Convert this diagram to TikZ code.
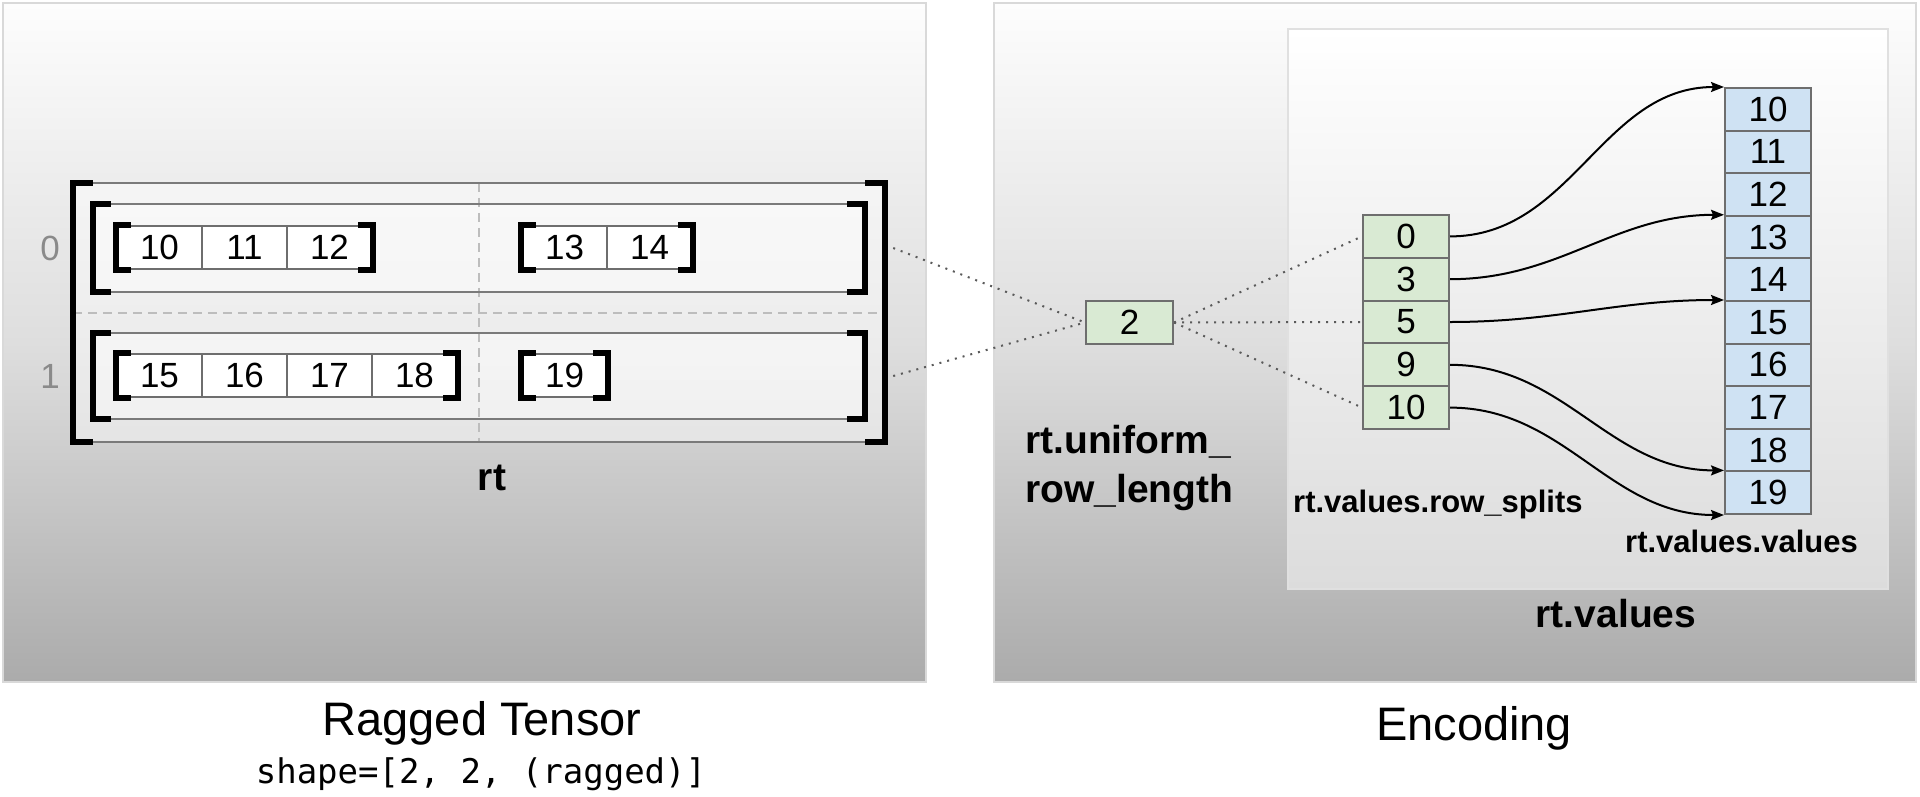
\documentclass[tikz,border=0pt]{standalone}
\usepackage{fontspec}
\setmainfont{Liberation Sans}
\setmonofont{DejaVu Sans Mono}
\usetikzlibrary{arrows.meta}
\definecolor{cellgreen}{HTML}{D9EAD3}
\definecolor{cellblue}{HTML}{CFE2F3}
\definecolor{cellline}{HTML}{6E6E6E}
\definecolor{boxline}{HTML}{7A7A7A}
\definecolor{dashgray}{HTML}{BDBDBD}
\definecolor{dotgray}{HTML}{5A5A5A}
\definecolor{idxgray}{HTML}{8A8A8A}
\definecolor{paneltop}{HTML}{FDFDFD}
\definecolor{panelmid}{HTML}{DEDEDE}
\definecolor{panelbot}{HTML}{ABABAB}
\definecolor{innerbot}{HTML}{DCDCDC}
\begin{document}
\begin{tikzpicture}[x=1pt,y=-1pt,
  panel/.style={draw=black!15, line width=1.5pt, top color=paneltop, bottom color=panelbot, middle color=panelmid},
  innerpanel/.style={draw=black!12, line width=1.5pt, top color=white, bottom color=innerbot},
  cell/.style={draw=cellline, line width=2pt, minimum width=85pt, minimum height=43pt, inner sep=0pt, font=\fontsize{35}{40}\selectfont},
  leaf/.style={cell, fill=white},
  split/.style={cell, fill=cellgreen, minimum width=86pt, minimum height=42.8pt},
  val/.style={cell, fill=cellblue, minimum width=86pt, minimum height=42.6pt},
  holder/.style={fill=white, fill opacity=0.45, inner sep=0pt},
  boxedge/.style={draw=boxline, line width=2pt},
  brk/.style={line width=6pt, line join=miter, black},
  dashline/.style={dashgray, line width=2pt, dash pattern=on 9pt off 6pt},
  dotline/.style={dotgray, line width=2pt, dash pattern=on 2pt off 6pt},
  arr/.style={black, line width=2pt, -{Stealth[length=13pt,width=10pt,inset=2pt]}},
  lab/.style={font=\bfseries\fontsize{39}{44}\selectfont, inner sep=0pt},
  slab/.style={font=\bfseries\fontsize{31}{36}\selectfont, inner sep=0pt},
  title/.style={font=\fontsize{47}{52}\selectfont, inner sep=0pt},
  idx/.style={font=\fontsize{35}{40}\selectfont, text=idxgray, inner sep=0pt}
]
\useasboundingbox (0,0) rectangle (1920,796);
% panels
\path[panel] (3,3) rectangle (926,682);
\path[panel] (994,3) rectangle (1916,682);
\path[innerpanel] (1288,29) rectangle (1888,589);

% ragged tensor
\node[holder, minimum width=812pt, minimum height=259pt] (outer) at (479,312.5) {};
\node[holder, minimum width=772pt, minimum height=88pt] (row0) at (479,248) {};
\node[holder, minimum width=772pt, minimum height=86pt] (row1) at (479,376) {};
\draw[dashline] (outer.west) -- (outer.east);
\draw[dashline, line width=1.5pt] (outer.north) -- (outer.south);
\foreach \b in {outer,row0,row1}{
  \draw[boxedge] (\b.north west) -- (\b.north east);
  \draw[boxedge] (\b.south west) -- (\b.south east);
}
\draw[brk] ([xshift=20pt]outer.north west) -- (outer.north west) -- (outer.south west) -- ([xshift=20pt]outer.south west);
\draw[brk] ([xshift=-20pt]outer.north east) -- (outer.north east) -- (outer.south east) -- ([xshift=-20pt]outer.south east);
\foreach \b in {row0,row1}{
  \draw[brk] ([xshift=18pt]\b.north west) -- (\b.north west) -- (\b.south west) -- ([xshift=18pt]\b.south west);
  \draw[brk] ([xshift=-18pt]\b.north east) -- (\b.north east) -- (\b.south east) -- ([xshift=-18pt]\b.south east);
}
\node[idx] (i0) at (50,248) {0};
\node[idx] (i1) at (50,376) {1};

% leaf cells
\foreach \v [count=\i from 0] in {10,11,12} \node[leaf] (a\v) at ({159.5+85*\i},247.5) {\v};
\foreach \v [count=\i from 0] in {13,14} \node[leaf] (a\v) at ({564.5+85*\i},247.5) {\v};
\foreach \v [count=\i from 0] in {15,16,17,18} \node[leaf] (a\v) at ({159.5+85*\i},375.5) {\v};
\node[leaf] (a19) at (564.5,375.5) {19};
\foreach \l/\r in {a10/a12,a13/a14,a15/a18,a19/a19}{
  \draw[brk] ([xshift=15pt]\l.north west) -- (\l.north west) -- (\l.south west) -- ([xshift=15pt]\l.south west);
  \draw[brk] ([xshift=-15pt]\r.north east) -- (\r.north east) -- (\r.south east) -- ([xshift=-15pt]\r.south east);
}
\node[lab, anchor=base] (rtlab) at (492,490) {rt};

% encoding
\node[cell, fill=cellgreen, minimum width=87pt] (two) at (1129.5,322.5) {2};
\foreach \v [count=\i from 0] in {0,3,5,9,10} \node[split] (rs\i) at (1406,{236.4+42.8*\i}) {\v};
\foreach \v [count=\i from 0] in {10,11,12,13,14,15,16,17,18,19} \node[val] (v\i) at (1768,{109.3+42.6*\i}) {\v};

\draw[dotline] ([xshift=28pt]row0.east) -- (two.west);
\draw[dotline] ([xshift=28pt]row1.east) -- (two.west);
\draw[dotline] (two.east) -- (rs0.west);
\draw[dotline] (two.east) -- (rs2.west);
\draw[dotline] (two.east) -- (rs4.west);

\draw[arr] (rs0.east) to[out=0,in=180] (v0.north west);
\draw[arr] (rs1.east) to[out=0,in=180] (v3.north west);
\draw[arr] (rs2.east) to[out=0,in=180] (v5.north west);
\draw[arr] (rs3.east) to[out=0,in=180] (v9.north west);
\draw[arr] (rs4.east) to[out=0,in=180] (v9.south west);

\node[lab, anchor=base west] (url1) at (1025,453) {rt.uniform\_};
\node[lab, anchor=base west] (url2) at (1025,502) {row\_length};
\node[slab, anchor=base west] (rslab) at (1293,512) {rt.values.row\_splits};
\node[slab, anchor=base west] (vvlab) at (1625,552) {rt.values.values};
\node[lab, anchor=base] (rvlab) at (1616,627) {rt.values};

% titles
\node[title, anchor=base] (t1) at (482,735) {Ragged Tensor};
\node[font=\ttfamily\fontsize{34}{38}\selectfont, inner sep=0pt, anchor=base] (t1s) at (481,783) {shape=[2, 2, (ragged)]};
\node[title, anchor=base] (t2) at (1474,740) {Encoding};
\end{tikzpicture}
\end{document}
